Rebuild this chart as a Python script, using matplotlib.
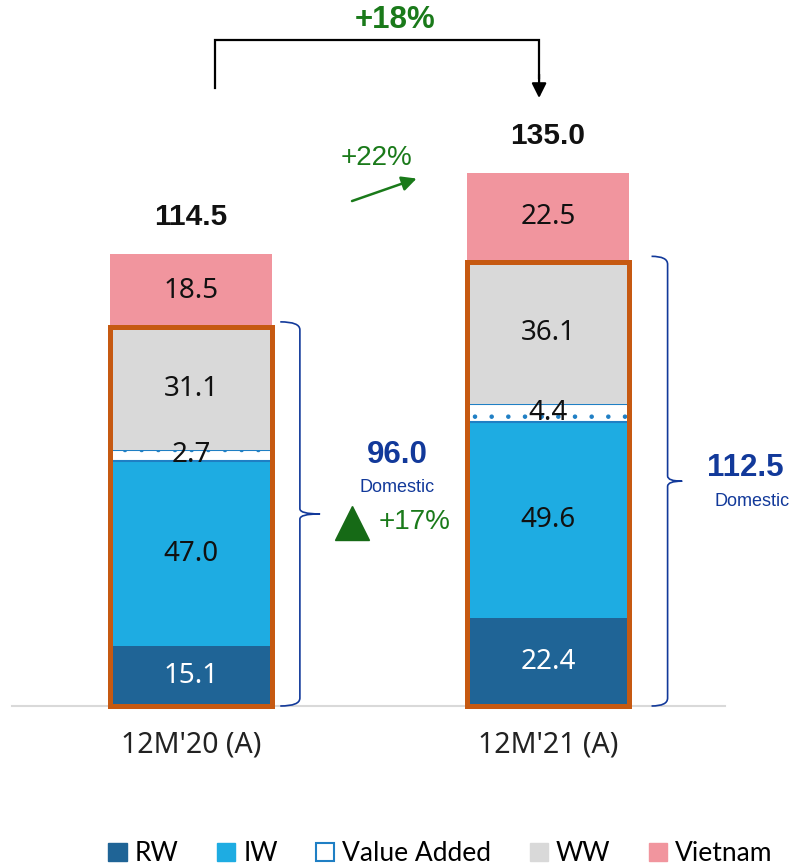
import matplotlib
matplotlib.use("Agg")
import matplotlib.pyplot as plt
from matplotlib.patches import Patch, Rectangle, PathPatch
from matplotlib.path import Path
from matplotlib import font_manager

# ---------------- data ----------------
categories = ["12M'20 (A)", "12M'21 (A)"]
rw = [15.1, 22.4]
iw = [47.0, 49.6]
va = [2.7, 4.4]
ww = [31.1, 36.1]
vietnam = [18.5, 22.5]
totals = [114.5, 135.0]
domestic = [96.0, 112.5]
series_names = ["RW", "IW", "Value Added", "WW", "Vietnam"]
total_growth = "+18%"
vietnam_growth = "+22%"
domestic_growth = "+17%"

# ---------------- style ----------------
C_RW = "#1F6496"
C_IW = "#1EACE2"
C_VA_EDGE = "#1F7FC4"
C_WW = "#D9D9D9"
C_VN = "#F1959E"
C_BOX = "#C65911"
C_GREEN = "#1A7A1A"
C_NAVY = "#12399A"

avail = {f.name for f in font_manager.fontManager.ttflist}
VAL_FONT = "Liberation Sans"
SEG_FONT = "Noto Sans" if "Noto Sans" in avail else "DejaVu Sans"
CAT_FONT = SEG_FONT
LEG_FONT = "Liberation Sans Narrow" if "Liberation Sans Narrow" in avail else "Lato"

plt.rcParams["hatch.color"] = C_VA_EDGE
plt.rcParams["hatch.linewidth"] = 0.8

fig = plt.figure(figsize=(7.91, 8.66), dpi=100)
ax = fig.add_axes([0, 0, 1, 1])
ax.set_xlim(-191 / 357, 600 / 357)
ax.set_ylim(-160 / 3.948, 706 / 3.948)
ax.axis("off")

x = [0, 1]
w = 0.455

ax.axhline(0, xmin=0.015, xmax=0.917, color="#D9D9D9", lw=1.5, zorder=1)

bottom = [0.0, 0.0]
segs = [(rw, C_RW, None, "white"), (iw, C_IW, None, "#111111"),
        (va, "white", ".", "#111111"), (ww, C_WW, None, "#111111"),
        (vietnam, C_VN, None, "#111111")]
for vals, col, hatch, tcol in segs:
    if hatch:
        ax.bar(x, vals, w, bottom=bottom, color="white", hatch=hatch,
               edgecolor=C_VA_EDGE, lw=1.5, zorder=2)
    else:
        ax.bar(x, vals, w, bottom=bottom, color=col, lw=0, zorder=2)
    for i, v in enumerate(vals):
        ax.text(x[i], bottom[i] + v / 2, f"{v:.1f}", ha="center", va="center",
                fontsize=20, family=SEG_FONT, color=tcol, zorder=5)
    bottom = [b + v for b, v in zip(bottom, vals)]

# orange box around domestic, totals, category labels
for i in range(2):
    dom = rw[i] + iw[i] + va[i] + ww[i]
    ax.add_patch(Rectangle((x[i] - w / 2, 0), w, dom, fill=False,
                           edgecolor=C_BOX, lw=3.6, zorder=4))
    ax.text(x[i], totals[i] + 9.3, f"{totals[i]:.1f}", ha="center", va="center",
            fontsize=21.5, fontweight="bold", family=VAL_FONT, color="#111111")
    ax.text(x[i], -9.9, categories[i], ha="center", va="center",
            fontsize=20.5, family=CAT_FONT, color="#222222")

# curly braces
def brace(xc, top, bot, dx=(0.25, 0.305, 0.36)):
    x0, x1, x2 = xc + dx[0], xc + dx[1], xc + dx[2]
    mid = (top + bot) / 2
    r, d = 2.0, 1.3
    verts = [(x0, top), (x1, top), (x1, top - r), (x1, mid + d),
             (x1, mid), (x2, mid),
             (x1, mid), (x1, mid - d), (x1, bot + r), (x1, bot), (x0, bot)]
    codes = [Path.MOVETO, Path.CURVE3, Path.CURVE3, Path.LINETO,
             Path.CURVE3, Path.CURVE3,
             Path.CURVE3, Path.CURVE3, Path.LINETO, Path.CURVE3, Path.CURVE3]
    ax.add_patch(PathPatch(Path(verts, codes), fill=False, edgecolor=C_NAVY,
                           lw=1.2, zorder=3, joinstyle="round"))

brace(x[0], rw[0] + iw[0] + va[0] + ww[0] + 1.4, 0)
brace(x[1] + 0.03, rw[1] + iw[1] + va[1] + ww[1] + 1.4, 0, dx=(0.26, 0.305, 0.345))

# domestic labels
ax.text(x[0] + 0.577, 63.6, f"{domestic[0]:.1f}", ha="center", va="center",
        fontsize=22.5, fontweight="bold", family=VAL_FONT, color=C_NAVY)
ax.text(x[0] + 0.577, 55.3, "Domestic", ha="center", va="center",
        fontsize=13, family=VAL_FONT, color=C_NAVY)
ax.plot([x[0] + 0.451], [46.4], marker="^", ms=25, color="#166A16", lw=0)
ax.text(x[0] + 0.627, 46.6, domestic_growth, ha="center", va="center",
        fontsize=20, family=VAL_FONT, color=C_GREEN)
ax.text(x[1] + 0.552, 60.3, f"{domestic[1]:.1f}", ha="center", va="center",
        fontsize=22.5, fontweight="bold", family=VAL_FONT, color=C_NAVY)
ax.text(x[1] + 0.571, 51.7, "Domestic", ha="center", va="center",
        fontsize=13, family=VAL_FONT, color=C_NAVY)

# top bracket
ytop = totals[1] + 33.7
ax.plot([x[0] + 0.067, x[0] + 0.067, x[1] - 0.025, x[1] - 0.025],
        [totals[0] + 42, ytop, ytop, totals[1] + 24], color="black", lw=1.6,
        solid_joinstyle="miter")
ax.annotate("", xy=(x[1] - 0.025, totals[1] + 19), xytext=(x[1] - 0.025, totals[1] + 25),
            arrowprops=dict(arrowstyle="-|>", color="black", lw=1.6, mutation_scale=22,
                            shrinkA=0, shrinkB=0))
ax.text(0.571, ytop + 5.0, total_growth, ha="center", va="center", fontsize=22.5,
        fontweight="bold", family=VAL_FONT, color=C_GREEN)

# vietnam growth arrow
ax.annotate("", xy=(0.632, 133.6), xytext=(0.451, 127.9),
            arrowprops=dict(arrowstyle="-|>", color=C_GREEN, lw=1.8, mutation_scale=22,
                            shrinkA=0, shrinkB=0))
ax.text(0.521, 138.8, vietnam_growth, ha="center", va="center", fontsize=20,
        family=VAL_FONT, color=C_GREEN)

# legend
handles = [Patch(facecolor=C_RW, edgecolor=C_RW),
           Patch(facecolor=C_IW, edgecolor=C_IW),
           Patch(facecolor="white", edgecolor=C_VA_EDGE, lw=1.5),
           Patch(facecolor=C_WW, edgecolor=C_WW),
           Patch(facecolor=C_VN, edgecolor=C_VN)]
fig.legend(handles, series_names, loc="center", bbox_to_anchor=(0.557, 0.014),
           ncol=5, frameon=False, handlelength=0.7, handleheight=0.7,
           handletextpad=0.3, columnspacing=1.45,
           prop={"family": LEG_FONT, "size": 19})

fig.savefig("out.png", dpi=100)
